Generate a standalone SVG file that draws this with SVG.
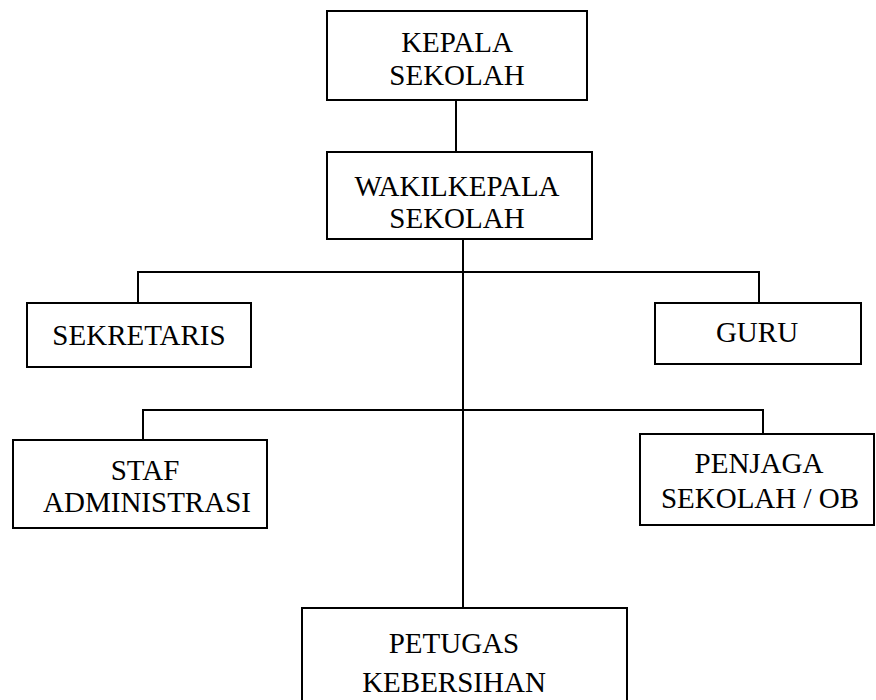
<svg xmlns="http://www.w3.org/2000/svg" width="876" height="700" viewBox="0 0 876 700">
<style>
.box{fill:#fff;stroke:#000;stroke-width:2}
line{stroke:#000;stroke-width:2}
text{font-family:"Liberation Serif","Times New Roman",serif;font-size:29px;fill:#000;text-anchor:middle}
</style>
<rect width="876" height="700" fill="#fff"/>
<g id="connectors">
<line x1="456" y1="100" x2="456" y2="152"/>
<line x1="463" y1="239" x2="463" y2="608"/>
<line x1="138" y1="272" x2="759" y2="272"/>
<line x1="138" y1="271" x2="138" y2="303"/>
<line x1="759" y1="271" x2="759" y2="303"/>
<line x1="143" y1="410" x2="763" y2="410"/>
<line x1="143" y1="409" x2="143" y2="440"/>
<line x1="763" y1="409" x2="763" y2="434"/>
</g>
<g id="kepala">
<rect class="box" x="327" y="11" width="260" height="89"/>
<text x="457" y="52">KEPALA</text>
<text x="457" y="85">SEKOLAH</text>
</g>
<g id="wakil">
<rect class="box" x="327" y="152" width="265" height="87"/>
<text x="457" y="196">WAKILKEPALA</text>
<text x="457" y="228">SEKOLAH</text>
</g>
<g id="sekretaris">
<rect class="box" x="27" y="303" width="224" height="64"/>
<text x="139" y="345">SEKRETARIS</text>
</g>
<g id="guru">
<rect class="box" x="655" y="303" width="206" height="61"/>
<text x="757" y="342">GURU</text>
</g>
<g id="staf">
<rect class="box" x="13" y="440" width="254" height="88"/>
<text x="145" y="480">STAF</text>
<text x="147" y="512">ADMINISTRASI</text>
</g>
<g id="penjaga">
<rect class="box" x="640" y="434" width="234" height="91"/>
<text x="759" y="473">PENJAGA</text>
<text x="760" y="508">SEKOLAH / OB</text>
</g>
<g id="petugas">
<rect class="box" x="302" y="608" width="325" height="100"/>
<text x="454" y="653">PETUGAS</text>
<text x="454" y="692">KEBERSIHAN</text>
</g>
</svg>
